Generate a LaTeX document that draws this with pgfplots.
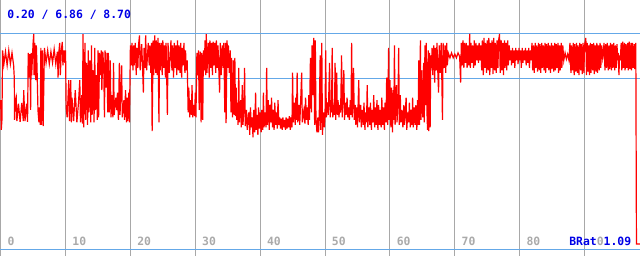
\documentclass[border=0pt]{standalone}
\usepackage{pgfplots}
\pgfplotsset{compat=1.18}
\usepackage{fontspec}
\newfontfamily\mono{DejaVu Sans Mono}
\definecolor{gridgray}{RGB}{168,168,168}
\definecolor{refblue}{RGB}{100,168,232}
\definecolor{txtblue}{RGB}{0,0,230}
\definecolor{labgray}{RGB}{170,170,170}
\begin{document}
\begin{tikzpicture}
\begin{axis}[
  scale only axis, width=320pt, height=128pt,
  xmin=-0.1, xmax=98.55, ymin=-0.28, ymax=10.03,
  axis line style={draw=none},
  xtick={0,10,...,90}, ytick=\empty,
  xticklabels={}, major tick length=0pt,
  xmajorgrids, grid style={gridgray, line width=0.5pt},
  clip=true,
]
\addplot[refblue, line width=0.5pt] coordinates {(-1,8.70) (100,8.70)};
\addplot[refblue, line width=0.5pt] coordinates {(-1,6.86) (100,6.86)};
\addplot[refblue, line width=0.5pt] coordinates {(-1,0) (100,0)};
\addplot[red, line width=0.6pt] coordinates {
(0,6.0) (0.1,4.8) (0.2,5.2)
(0.3,8.0) (0.5,7.45) (0.75,7.95) (1.0,7.4) (1.25,8.0) (1.5,7.45) (1.75,7.9) (2.0,7.4)
(2.1,6.9) (2.15,5.2)
(2.25,5.9) (2.4,6.1) (2.5,5.15) (2.75,5.85) (3.0,5.12) (3.25,5.88) (3.5,5.15) (3.55,6.4) (3.75,5.15) (4.0,5.85) (4.15,5.12)
(4.25,7.9) (4.4,6.9) (4.5,7.85) (4.62,5.6) (4.7,7.9) (4.78,7.0)
(5.0,8.3) (5.1,8.66) (5.15,7.0) (5.25,8.3) (5.4,6.8) (5.5,8.2) (5.6,7.4)
(5.75,5.6) (5.9,5.1) (6.0,5.7) (6.1,5.0) (6.2,8.1) (6.3,5.0) (6.45,8.0) (6.55,4.95)
(6.75,8.1) (7.0,7.5) (7.25,8.0) (7.5,7.45) (7.75,7.95) (8.0,7.5) (8.25,8.05) (8.5,7.45) (8.75,7.95) (8.85,6.9) (9.0,8.0) (9.1,8.3) (9.2,7.0) (9.35,8.0) (9.5,8.34) (9.6,7.4) (9.75,8.0) (9.9,7.5) (10.0,8.0)
(10.1,5.7) (10.25,5.3) (10.5,6.8) (10.6,5.15) (10.8,6.8) (10.9,5.1) (11.0,6.1) (11.25,5.15) (11.5,6.4) (11.75,5.1) (12.0,5.9) (12.2,6.8) (12.3,5.1) (12.5,6.2) (12.6,5.05)
(12.7,8.66) (12.8,4.9)
(13.0,8.3) (13.1,5.2) (13.25,7.5) (13.4,5.0) (13.5,8.0) (13.6,5.5) (13.75,7.6) (13.9,5.1) (14.0,8.2) (14.1,5.4) (14.25,7.2) (14.4,5.1) (14.5,8.1) (14.6,5.6) (14.75,7.0) (14.9,5.2)
(15.0,8.0) (15.1,5.3) (15.25,7.9) (15.4,7.0) (15.5,8.0) (15.6,6.4) (15.75,7.95) (15.9,7.2) (16.0,5.3) (16.1,8.0) (16.25,6.5) (16.4,7.9) (16.5,5.5)
(16.6,7.9) (16.75,5.5) (16.9,7.6) (17.0,5.3)
(17.2,6.2) (17.3,5.3) (17.4,7.5) (17.5,5.4) (17.75,6.1) (17.9,5.6) (18.0,6.3) (18.15,5.2) (18.3,7.5) (18.4,5.4) (18.5,6.2) (18.65,7.4) (18.75,5.3) (19.0,6.0) (19.1,5.2) (19.25,6.4) (19.4,5.1) (19.5,6.1) (19.6,5.15) (19.75,6.3) (19.85,5.1)
(20.0,8.2) (20.15,7.4) (20.25,8.3) (20.4,7.2) (20.5,8.2) (20.6,7.4) (20.75,8.3) (20.9,7.0) (21.0,8.1) (21.15,7.3) (21.25,8.2) (21.4,8.6) (21.5,7.2) (21.75,8.25) (21.9,7.1) (22.0,6.3) (22.1,8.1) (22.25,7.3) (22.35,8.6) (22.5,7.2) (22.75,8.3) (22.9,7.4) (23.0,8.2) (23.15,7.1) (23.25,8.3)
(23.35,4.75) (23.5,8.4) (23.6,7.0)
(23.75,8.6) (23.9,7.1) (24.0,8.4) (24.15,7.0) (24.25,8.5) (24.4,5.1) (24.5,8.3)
(24.6,7.2) (24.75,8.3) (24.9,7.0) (25.0,8.4) (25.15,7.3) (25.25,8.2) (25.4,6.9) (25.5,8.3) (25.7,5.4) (25.8,8.3) (26.0,7.1) (26.25,8.4) (26.4,7.2) (26.5,8.2) (26.65,6.9) (26.75,8.3) (26.9,7.3) (27.0,8.2) (27.15,7.0) (27.25,8.4) (27.4,7.2) (27.5,8.2) (27.65,7.1) (27.75,8.3) (27.9,6.9) (28.0,8.1) (28.15,7.4) (28.25,8.3) (28.4,7.1) (28.5,8.0) (28.6,7.2)
(28.75,7.6) (28.9,5.5) (29.0,6.5) (29.15,5.3) (29.25,6.0) (29.4,5.4) (29.5,6.6) (29.6,5.3) (29.75,5.8) (29.9,5.35) (30.0,6.3) (30.1,5.3)
(30.25,7.9) (30.4,7.0) (30.5,8.0) (30.6,5.6) (30.75,7.95) (30.9,5.1) (31.0,7.9) (31.15,5.2) (31.25,8.0)
(31.4,7.2) (31.5,8.4) (31.6,7.0) (31.7,8.66) (31.8,7.1) (32.0,8.3) (32.15,6.9) (32.25,8.4) (32.4,7.3) (32.5,8.3) (32.65,7.0) (32.75,8.35)
(32.9,7.4) (33.0,8.3) (33.15,7.1) (33.25,8.4) (33.4,7.3) (33.5,8.2) (33.75,6.3) (33.85,8.3) (34.0,7.0) (34.15,8.2) (34.3,7.3) (34.4,8.3)
(34.55,5.5) (34.65,8.3) (34.75,5.07)
(34.9,8.4) (35.0,7.3) (35.1,8.2) (35.25,7.1) (35.4,8.0)
(35.5,5.5) (35.6,7.7) (35.75,5.3) (35.9,7.6) (36.0,5.4) (36.1,7.7) (36.2,5.35)
(36.3,6.5) (36.4,5.2) (36.5,5.9) (36.6,5.0) (36.7,7.3) (36.8,5.1) (37.0,6.0) (37.1,4.9) (37.25,6.6) (37.35,5.0) (37.5,5.7) (37.6,7.3) (37.7,4.95)
(37.9,5.6) (38.0,4.8) (38.25,5.5) (38.4,4.6) (38.5,5.7) (38.65,4.9) (38.75,5.3) (38.9,4.5) (39.0,5.6) (39.15,4.7) (39.3,6.3) (39.4,4.8) (39.5,5.4) (39.65,4.6) (39.75,5.7) (39.9,4.85) (40.0,5.5) (40.15,4.7) (40.25,5.6) (40.4,4.8) (40.5,6.3) (40.6,4.9) (40.75,5.5)
(40.9,4.9) (41.0,7.3) (41.1,5.0) (41.25,6.0) (41.4,4.8) (41.5,5.8) (41.65,5.1) (41.75,6.1) (41.9,4.9) (42.0,5.6) (42.15,4.8) (42.25,5.9) (42.4,5.0) (42.5,5.5) (42.65,4.85) (42.75,6.0) (42.9,5.0)
(43.0,5.3) (43.15,4.85) (43.25,5.25) (43.4,4.8) (43.5,5.3) (43.65,4.9) (43.75,5.2) (43.9,4.8) (44.0,5.3) (44.15,4.85) (44.25,5.25) (44.4,4.9) (44.5,5.35) (44.65,4.8) (44.75,5.3) (44.9,4.9)
(45.0,7.1) (45.1,5.1) (45.25,5.9) (45.4,5.0) (45.5,6.1) (45.6,5.2) (45.7,7.1) (45.8,5.1) (46.0,5.8) (46.1,5.0) (46.25,6.0) (46.4,7.1) (46.5,5.1) (46.75,5.6) (46.9,5.05) (47.0,6.1) (47.15,5.2) (47.25,5.7) (47.4,5.0) (47.5,6.2)
(47.6,5.2) (47.75,7.7) (47.9,5.5) (48.0,8.2) (48.1,6.2) (48.25,8.5) (48.4,5.0) (48.5,8.4)
(48.6,5.3) (48.75,4.7) (48.9,5.3) (49.0,4.7) (49.1,5.2)
(49.25,7.8) (49.35,4.8) (49.5,8.3) (49.6,4.6) (49.75,5.5) (49.9,4.9) (50.0,5.4)
(50.1,8.0) (50.2,5.3) (50.35,5.9) (50.5,5.4) (50.7,7.5) (50.8,5.3) (50.9,6.0) (51.0,5.5) (51.1,8.1) (51.2,5.3) (51.35,5.8) (51.45,5.4) (51.55,7.5) (51.65,5.2) (51.8,7.1) (51.9,5.4) (52.0,6.0) (52.15,5.3) (52.25,5.8) (52.4,5.5) (52.55,7.8) (52.65,5.3) (52.75,6.1) (52.9,7.2) (53.0,5.2) (53.15,5.9) (53.25,5.4) (53.4,6.1) (53.5,5.3) (53.65,5.7) (53.75,5.2) (53.9,6.0) (54.0,5.4) (54.1,8.3) (54.2,5.3) (54.4,7.3) (54.5,5.2) (54.65,5.8)
(54.75,5.0) (54.9,5.7) (55.0,4.9) (55.2,6.8) (55.3,5.1) (55.5,5.8) (55.6,4.9) (55.75,5.6) (55.9,5.0) (56.0,5.9) (56.15,4.8) (56.25,5.5) (56.4,5.1) (56.5,6.6) (56.6,4.9) (56.75,5.7) (56.9,5.0) (57.0,5.9) (57.15,4.8) (57.25,5.6) (57.4,5.1) (57.5,6.2) (57.65,4.9) (57.75,5.7) (57.9,5.0) (58.0,6.0) (58.15,4.8) (58.25,5.8) (58.4,5.0) (58.5,5.6) (58.65,4.9) (58.75,6.1) (58.9,5.0) (59.0,5.7) (59.15,4.8) (59.25,5.9)
(59.4,5.1) (59.5,6.9) (59.65,5.0) (59.8,8.1) (59.9,5.2) (60.0,6.8) (60.15,4.9) (60.25,6.5) (60.4,4.7) (60.5,6.4) (60.6,5.2) (60.7,8.2) (60.8,5.0) (61.0,6.6) (61.1,5.1) (61.25,6.0) (61.35,8.1) (61.45,5.0) (61.6,6.2) (61.7,5.1)
(61.85,5.6) (62.0,4.9) (62.15,5.8) (62.25,5.0) (62.5,6.1) (62.6,4.8) (62.75,5.5) (62.9,5.1) (63.0,5.9) (63.15,4.9) (63.25,5.6) (63.4,5.0) (63.5,6.1) (63.6,4.9) (63.75,5.7) (63.9,5.0) (64.0,5.8) (64.15,4.8) (64.25,6.0) (64.35,5.0)
(64.45,7.6) (64.55,5.0) (64.7,8.4) (64.8,5.2) (64.9,7.2) (65.05,5.3) (65.2,7.5) (65.3,5.1) (65.4,8.2)
(65.5,5.8) (65.6,8.3) (65.7,5.6) (65.8,4.8) (65.9,8.0) (66.0,4.75) (66.1,7.9) (66.2,4.9) (66.3,7.8)
(66.4,7.3) (66.5,8.1) (66.6,7.0) (66.75,8.2) (66.9,6.7) (67.0,8.1) (67.15,7.2) (67.25,8.3) (67.4,7.0) (67.5,6.3) (67.6,8.2) (67.75,7.1) (67.9,8.3) (68.0,6.9) (68.1,5.2) (68.2,8.3) (68.35,7.3) (68.5,8.2) (68.6,7.1) (68.75,8.3) (68.85,7.4)
(69.0,7.9) (69.25,7.7) (69.5,7.9) (69.75,7.7) (70.0,7.85) (70.25,7.7) (70.5,7.9) (70.75,7.75)
(70.9,6.7) (71.0,8.3) (71.15,7.4) (71.25,8.4) (71.4,7.3) (71.5,8.3) (71.65,7.5) (71.75,8.3) (71.9,7.3) (72.0,8.2) (72.15,7.4) (72.3,8.66) (72.4,7.3) (72.5,8.3) (72.65,7.5) (72.75,8.2) (72.9,7.3) (73.0,8.4) (73.15,7.4) (73.25,8.3) (73.4,7.6) (73.5,8.2) (73.65,7.5) (73.75,8.3) (73.9,7.6) (74.0,8.2)
(74.15,7.2) (74.25,8.4) (74.4,7.0) (74.5,8.5) (74.65,7.3) (74.75,8.3) (74.9,7.1) (75.0,8.4) (75.15,7.2) (75.25,8.5) (75.4,7.0) (75.5,8.3) (75.65,7.3) (75.75,8.4) (75.9,7.05) (76.0,8.5) (76.15,7.2) (76.25,8.3) (76.4,7.1) (76.5,8.4) (76.65,7.3) (76.75,8.4) (76.9,8.66) (77.0,7.1) (77.15,8.4) (77.25,7.2) (77.4,8.3) (77.5,7.0) (77.65,8.4) (77.75,7.3) (77.9,8.3) (78.0,7.2) (78.15,8.4) (78.25,7.4) (78.4,8.2)
(78.5,7.6) (78.65,8.0) (78.75,7.4) (78.9,8.1) (79.0,7.5) (79.15,8.0) (79.25,7.3) (79.4,8.1) (79.5,7.6) (79.65,8.0) (79.75,7.45) (79.9,8.1) (80.0,7.6) (80.15,8.0) (80.25,7.3) (80.4,8.1) (80.5,7.5) (80.65,8.0) (80.75,7.6) (80.9,8.1) (81.0,7.4) (81.15,8.0) (81.25,7.5) (81.4,8.1) (81.5,7.3) (81.65,8.0) (81.75,7.6)
(81.9,8.3) (82.0,7.2) (82.15,8.2) (82.25,7.1) (82.4,8.3) (82.5,7.3) (82.65,8.2) (82.75,7.15) (82.9,8.3) (83.0,7.2) (83.15,8.25) (83.25,7.1) (83.4,8.3) (83.5,7.3) (83.65,8.2) (83.75,7.2) (83.9,8.3) (84.0,7.1) (84.15,8.25) (84.25,7.3) (84.4,8.3) (84.5,7.2) (84.65,8.2) (84.75,7.1) (84.9,8.3) (85.0,7.25) (85.15,8.2) (85.25,7.15) (85.4,8.3) (85.5,7.2) (85.65,8.25) (85.75,7.3) (85.9,8.3) (86.0,7.1) (86.15,8.2) (86.25,7.2) (86.4,8.3) (86.5,7.3) (86.65,8.2)
(86.8,7.6) (87.0,7.9) (87.2,7.65) (87.4,7.85) (87.6,7.6)
(87.75,8.3) (87.9,7.1) (88.0,8.2) (88.15,7.2) (88.25,8.3) (88.4,7.0) (88.5,8.25) (88.65,7.15) (88.75,8.3) (88.9,7.1) (89.0,8.2) (89.15,7.0) (89.25,8.3) (89.4,7.2) (89.5,8.25) (89.65,7.05) (89.75,8.3) (89.9,7.1) (90.0,8.2) (90.2,8.5) (90.3,7.0) (90.4,8.3) (90.5,7.15) (90.65,8.2) (90.75,7.0) (90.9,8.3) (91.0,7.1) (91.15,8.25) (91.25,7.2) (91.4,8.3) (91.5,7.05) (91.65,8.2) (91.75,7.15) (91.9,8.3) (92.0,7.1) (92.15,8.2) (92.25,7.2) (92.4,8.3) (92.5,7.3) (92.65,8.2)
(92.8,7.7) (92.9,7.9)
(93.0,8.3) (93.15,7.2) (93.25,8.25) (93.4,7.3) (93.5,8.3) (93.65,7.2) (93.75,8.2) (93.9,7.25) (94.0,8.3) (94.15,7.2) (94.25,8.25) (94.4,7.3) (94.5,8.3) (94.65,7.2) (94.75,8.2) (94.9,7.3) (95.0,8.25)
(95.1,7.6) (95.2,7.9) (95.3,7.0) (95.4,7.8) (95.5,7.6)
(95.65,8.3) (95.75,7.2) (95.9,8.35) (96.0,7.3) (96.15,8.3) (96.25,7.2) (96.4,8.25) (96.5,7.3) (96.65,8.3) (96.75,7.2) (96.9,8.35) (97.0,7.25) (97.15,8.3) (97.25,7.2) (97.4,8.3) (97.5,7.3) (97.65,8.25) (97.75,7.25) (97.9,8.3)
(98.0,0.2) (98.6,0.2)
};
% labels
\foreach \v in {0,10,...,80} {
  \edef\temp{\noexpand\node[anchor=west, inner sep=0pt, text=labgray, font=\noexpand\mono\noexpand\bfseries\noexpand\fontsize{5.7}{6}\noexpand\selectfont] at (axis cs:\v+1.0,0.32) {\v};}
  \temp
}
\node[anchor=west, inner sep=0pt, font=\mono\bfseries\fontsize{5.7}{6}\selectfont, text=txtblue] at (axis cs:0.98,9.42) {0.20 / 6.86 / 8.70};
\node[anchor=west, inner sep=0pt, font=\mono\bfseries\fontsize{5.7}{6}\selectfont] at (axis cs:87.6,0.32) {\textcolor{txtblue}{BRat}\textcolor{labgray}{0}\textcolor{txtblue}{1.09}};
\end{axis}
\pgfresetboundingbox
\path (current axis.south west) rectangle (current axis.north east);
\end{tikzpicture}
\end{document}
